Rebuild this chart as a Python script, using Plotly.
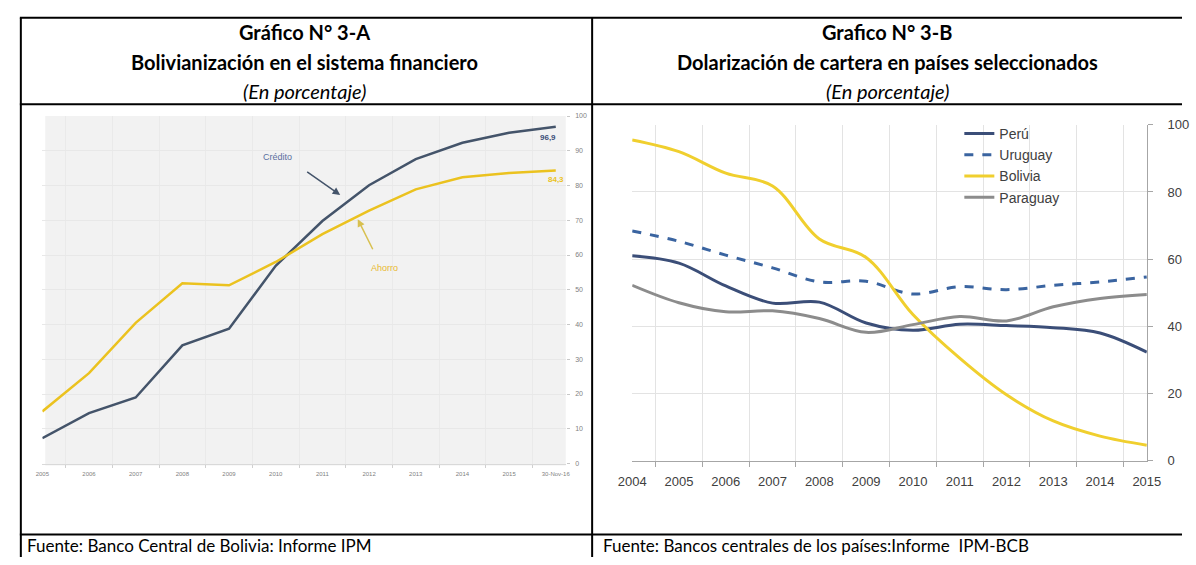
import plotly.graph_objects as go

W, H = 1196, 565

# Gráfico 3-A: bolivianización (%)
years_a = ["2005", "2006", "2007", "2008", "2009", "2010", "2011", "2012",
           "2013", "2014", "2015", "30-Nov-16"]
credito = [7.3, 14.5, 19.0, 34.0, 38.8, 56.9, 69.8, 80.1, 87.6, 92.3, 95.2, 96.9]
ahorro = [15.0, 26.0, 40.5, 51.9, 51.3, 58.0, 66.0, 72.8, 78.9, 82.4, 83.6, 84.3]

# Gráfico 3-B: dolarización de cartera (%)
years_b = [str(y) for y in range(2004, 2016)]
peru = [61.0, 58.8, 52.0, 46.9, 47.2, 41.0, 38.8, 40.6, 40.2, 39.6, 38.0, 32.3]
uruguay = [68.4, 65.3, 61.2, 57.4, 53.2, 53.4, 49.6, 51.8, 50.9, 52.2, 53.2, 54.7]
bolivia = [95.5, 92.0, 85.6, 81.8, 66.0, 60.5, 43.5, 30.5, 19.6, 11.8, 7.3, 4.6]
paraguay = [52.2, 47.0, 44.3, 44.6, 42.3, 38.2, 40.5, 42.9, 41.6, 45.8, 48.3, 49.5]


def px(x):
    return x / W


def py(y):
    return 1 - y / H


fig = go.Figure()

# izquierda
fig.add_trace(go.Scatter(x=years_a, y=credito, mode="lines", name="Crédito",
                         line=dict(color="#44546A", width=2.5), showlegend=False,
                         xaxis="x", yaxis="y"))
fig.add_trace(go.Scatter(x=years_a, y=ahorro, mode="lines", name="Ahorro",
                         line=dict(color="#EBC21F", width=2.5), showlegend=False,
                         xaxis="x", yaxis="y"))

# derecha
fig.add_trace(go.Scatter(x=years_b, y=peru, mode="lines", name="Perú",
                         line=dict(color="#3B4E78", width=3, shape="spline"),
                         xaxis="x2", yaxis="y2"))
fig.add_trace(go.Scatter(x=years_b, y=uruguay, mode="lines", name="Uruguay",
                         line=dict(color="#3A64A0", width=3, dash="dash", shape="spline"),
                         xaxis="x2", yaxis="y2"))
fig.add_trace(go.Scatter(x=years_b, y=bolivia, mode="lines", name="Bolivia",
                         line=dict(color="#F0CF2E", width=3, shape="spline"),
                         xaxis="x2", yaxis="y2"))
fig.add_trace(go.Scatter(x=years_b, y=paraguay, mode="lines", name="Paraguay",
                         line=dict(color="#8C8C8C", width=3, shape="spline"),
                         xaxis="x2", yaxis="y2"))

small = dict(family="Liberation Sans", size=7, color="#7F7F7F")
mid = dict(family="Liberation Sans", size=13, color="#404040")

blk = dict(color="black", width=2)
shapes = [
    # fondo gris grafico A
    dict(type="rect", xref="paper", yref="paper", x0=px(32), x1=px(565),
         y0=py(471), y1=py(112), fillcolor="#F2F2F2", line=dict(width=0), layer="below"),
    # tabla
    dict(type="line", xref="paper", yref="paper", x0=px(6), x1=1, y0=py(11), y1=py(11), line=blk),
    dict(type="line", xref="paper", yref="paper", x0=px(6), x1=1, y0=py(100), y1=py(100), line=blk),
    dict(type="line", xref="paper", yref="paper", x0=px(6), x1=1, y0=py(542), y1=py(542), line=blk),
    dict(type="line", xref="paper", yref="paper", x0=px(7), x1=px(7), y0=0, y1=py(11), line=blk),
    dict(type="line", xref="paper", yref="paper", x0=px(592), x1=px(592), y0=0, y1=py(11), line=blk),
]

title_font = dict(family="Lato", size=20, color="black")
ann = []
for cx, lines in [(297, ["<b>Gráfico N° 3-A</b>", "<b>Bolivianización en el sistema financiero</b>",
                         "<i>(En porcentaje)</i>"]),
                  (894, ["<b>Grafico N° 3-B</b>", "<b>Dolarización de cartera en países seleccionados</b>",
                         "<i>(En porcentaje)</i>"])]:
    for i, t in enumerate(lines):
        ann.append(dict(text=t, x=px(cx), y=py(26 + 30 * i), xref="paper", yref="paper",
                        showarrow=False, font=title_font, xanchor="center", yanchor="middle"))

foot_font = dict(family="Lato", size=17, color="black")
ann.append(dict(text="Fuente: Banco Central de Bolivia: Informe IPM", x=px(11), y=py(553),
                xref="paper", yref="paper", showarrow=False, xanchor="left", yanchor="middle",
                font=foot_font))
ann.append(dict(text="Fuente: Bancos centrales de los países:Informe  IPM-BCB", x=px(601), y=py(553),
                xref="paper", yref="paper", showarrow=False, xanchor="left", yanchor="middle",
                font=foot_font))

# etiquetas grafico A
ann.append(dict(text="Crédito", x=px(253), y=py(147), xref="paper", yref="paper", showarrow=False,
                font=dict(family="Liberation Sans", size=9, color="#5A6FA0")))
ann.append(dict(text=" ", x=px(334), y=py(193), xref="paper", yref="paper", showarrow=True,
                ax=-36, ay=-25, arrowhead=2, arrowsize=1, arrowwidth=1.5, arrowcolor="#44546A"))
ann.append(dict(text="Ahorro", x=px(363), y=py(268), xref="paper", yref="paper", showarrow=False,
                font=dict(family="Liberation Sans", size=9, color="#E8B830")))
ann.append(dict(text=" ", x=px(352), y=py(218), xref="paper", yref="paper", showarrow=True,
                ax=18, ay=36, arrowhead=2, arrowsize=1, arrowwidth=1.5, arrowcolor="#D8C050"))
ann.append(dict(text="<b>%s</b>" % f"{credito[-1]:.1f}".replace(".", ","), x=years_a[-1], y=credito[-1],
                xref="x", yref="y", showarrow=False, yshift=-11, xshift=-8,
                font=dict(family="Liberation Sans", size=8, color="#3B4E78")))
ann.append(dict(text="<b>%s</b>" % f"{ahorro[-1]:.1f}".replace(".", ","), x=years_a[-1], y=ahorro[-1],
                xref="x", yref="y", showarrow=False, yshift=-9, xshift=0,
                font=dict(family="Liberation Sans", size=8, color="#EBC21F")))

fig.update_layout(
    width=W, height=H, margin=dict(l=0, r=0, t=0, b=0),
    paper_bgcolor="white", plot_bgcolor="rgba(0,0,0,0)",
    shapes=shapes, annotations=ann,
    xaxis=dict(domain=[px(29), px(565)], type="category", anchor="y", tickson="boundaries",
               showgrid=True, gridcolor="#EAEAEA", showline=True, linecolor="#D9D9D9",
               ticks="outside", ticklen=3, tickcolor="#D0D0D0", tickfont=dict(small, size=6),
               ticklabelstandoff=4),
    yaxis=dict(domain=[py(469), py(112)], range=[0, 100], dtick=10, side="right", anchor="x",
               showgrid=True, gridcolor="#E8E8E8", zeroline=False, ticks="outside", ticklen=3,
               tickcolor="#C8C8C8", tickfont=small, ticklabelstandoff=4),
    xaxis2=dict(domain=[px(633), px(1160)], type="category", anchor="y2", tickson="boundaries",
                showgrid=True, gridcolor="#E3E3E3", showline=True, linecolor="#A6A6A6",
                ticks="outside", ticklen=5, tickcolor="#A6A6A6", tickfont=mid, ticklabelstandoff=9),
    yaxis2=dict(domain=[py(466), py(121)], range=[0, 100], dtick=20, side="right", anchor="x2",
                showgrid=True, gridcolor="#E3E3E3", zeroline=False, showline=True, linecolor="#A6A6A6",
                ticks="outside", ticklen=5, tickcolor="#A6A6A6", tickfont=mid, ticklabelstandoff=12),
    legend=dict(x=px(968), y=py(114), xanchor="left", yanchor="top", bgcolor="rgba(0,0,0,0)",
                font=dict(family="Liberation Sans", size=14, color="#404040"), itemwidth=30),
)

fig.write_html("out.html", config={"displayModeBar": False},
               post_script="document.body.style.margin='0px';")
